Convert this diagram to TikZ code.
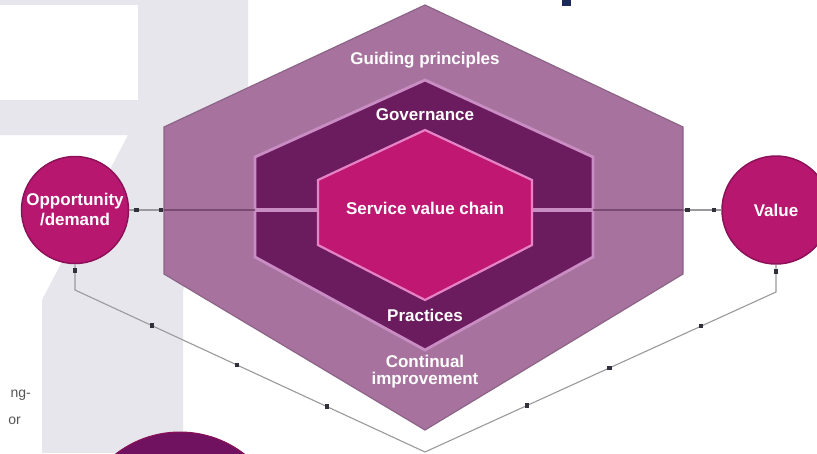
\documentclass[tikz,border=0pt]{standalone}
\usepackage{fontspec}
\setmainfont{Liberation Sans}
\definecolor{bggray}{HTML}{E6E6EC}
\definecolor{outerfill}{HTML}{A7739E}
\definecolor{outeredge}{HTML}{8C6487}
\definecolor{midfill}{HTML}{6B1C5E}
\definecolor{midedge}{HTML}{C98CC3}
\definecolor{innerfill}{HTML}{C01872}
\definecolor{inneredge}{HTML}{E683C6}
\definecolor{circfill}{HTML}{B8176F}
\definecolor{circedge}{HTML}{8C1158}
\definecolor{darkcirc}{HTML}{701260}
\definecolor{linegray}{HTML}{9A9A9E}
\definecolor{markdark}{HTML}{33303C}
\definecolor{hdark}{HTML}{7A4A72}
\definecolor{textgray}{HTML}{555555}
\definecolor{navyfrag}{HTML}{1C2A5A}
\begin{document}
\begin{tikzpicture}[x=1pt,y=-1pt,
  lbl/.style={text=white,font=\bfseries\fontsize{17}{17}\selectfont,align=center,inner sep=0pt},
  cnode/.style={circle,fill=circfill,draw=circedge,line width=1.5pt,minimum size=107pt,inner sep=0pt,
     text=white,font=\bfseries\fontsize{17}{20}\selectfont,align=center},
  conn/.style={draw=linegray,line width=1.1pt},
  mk/.style={rectangle,fill=markdark,minimum size=4.5pt,inner sep=0pt,draw=none}]
\useasboundingbox (0,0) rectangle (817,453);
\clip (0,0) rectangle (817,453);
% background
\fill[white] (0,0) rectangle (817,453);
\fill[bggray] (0,0) -- (248,0) -- (248,130) -- (183,290) -- (183,453) -- (42,453) -- (42,300) -- (128,135) -- (0,135) -- cycle;
\fill[white] (0,5) rectangle (138,100);
\fill[navyfrag] (562,0) rectangle (571,6);
\node[anchor=base east,text=textgray,font=\fontsize{14}{14}\selectfont,inner sep=0pt] (frag1) at (31,397) {ng-};
\node[anchor=base east,text=textgray,font=\fontsize{14}{14}\selectfont,inner sep=0pt] (frag2) at (21,424) {or};
% circles
\node[cnode] (opp) at (75,210) {Opportunity\\/demand};
\node[cnode,minimum size=108pt] (val) at (776,210) {Value};
\node[circle,fill=darkcirc,draw=circedge,line width=1pt,minimum size=210pt,inner sep=0pt] (bc) at (180,537) {};
% connectors
\draw[conn] (opp.east) -- (val.west)
  node[mk,pos=0.012]{} node[mk,pos=0.054]{} node[mk,pos=0.943]{} node[mk,pos=0.988]{};
\coordinate (ol) at (75,290);
\coordinate (bv) at (425,452);
\coordinate (orr) at (776,292);
\draw[conn] (opp.south) -- (ol) -- (bv) -- (orr) -- (val.south);
\path (opp.south) -- (ol) node[mk,pos=0.25]{};
\path (val.south) -- (orr) node[mk,pos=0.25]{};
\path (ol) -- (bv) node[mk,pos=0.22]{} node[mk,pos=0.463]{} node[mk,pos=0.72]{};
\path (bv) -- (orr) node[mk,pos=0.29]{} node[mk,pos=0.526]{} node[mk,pos=0.787]{};
% hexagons
\filldraw[fill=outerfill,draw=outeredge,line width=1.2pt]
  (425,5) -- (683,127) -- (683,274) -- (425,430) -- (164,274) -- (164,127) -- cycle;
\filldraw[fill=midfill,draw=midedge,line width=2.8pt]
  (425,80) -- (593,157) -- (593,257) -- (425,350) -- (255,257) -- (255,157) -- cycle;
\draw[hdark,line width=1.3pt] (164,210) -- (255,210);
\draw[hdark,line width=1.3pt] (593,210) -- (683,210);
\draw[midedge,line width=4pt] (255,210) -- (318,210);
\draw[midedge,line width=4pt] (532,210) -- (593,210);
\filldraw[fill=innerfill,draw=inneredge,line width=2.2pt]
  (425,130) -- (532,180) -- (532,245) -- (425,300) -- (318,245) -- (318,180) -- cycle;
% labels
\node[lbl] (gp) at (425,60) {Guiding principles};
\node[lbl] (gov) at (425,115) {Governance};
\node[lbl] (svc) at (425,208) {Service value chain};
\node[lbl] (prac) at (425,315) {Practices};
\node[lbl] (ci) at (425,372) {Continual\\improvement};
\end{tikzpicture}
\end{document}
